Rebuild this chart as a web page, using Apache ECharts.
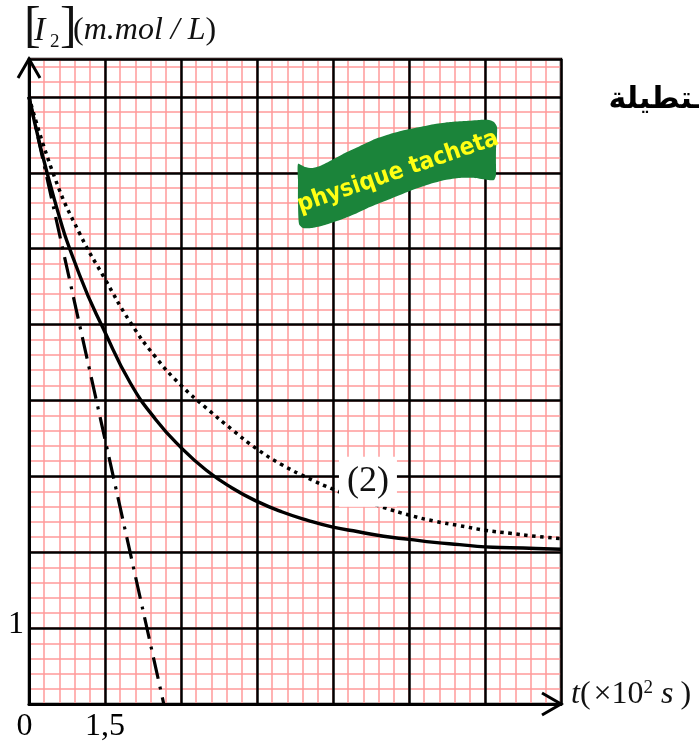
<!DOCTYPE html>
<html>
<head>
<meta charset="utf-8">
<script src="https://cdn.jsdelivr.net/npm/echarts@6/dist/echarts.min.js"></script>
<style>
  html, body { margin: 0; padding: 0; background: #fff; }
  #c { width: 699px; height: 742px; }
</style>
</head>
<body>
<div id="c"></div>
<script>
// Time in units of 10^2 s, concentration [I2] in mmol/L
const tSolid = [0, 0.5, 1.0, 1.5, 2.0, 2.5, 3.0, 3.5, 4.0, 4.5, 5.0, 5.5, 6.0, 6.5, 7.0, 7.5, 8.0, 8.5, 9.0, 9.5, 10.0, 10.5];
const cSolid = [8.0, 6.65, 5.65, 4.9, 4.23, 3.75, 3.38, 3.08, 2.85, 2.67, 2.53, 2.42, 2.33, 2.27, 2.21, 2.17, 2.13, 2.1, 2.07, 2.06, 2.05, 2.04];

const tDotted = [0, 0.5, 1.0, 1.5, 2.0, 2.5, 3.0, 3.5, 4.0, 4.5, 5.0, 5.5, 6.0, 6.5, 7.0, 7.5, 8.0, 8.5, 9.0, 9.5, 10.0, 10.5];
const cDotted = [8.0, 6.95, 6.2, 5.6, 5.03, 4.57, 4.2, 3.9, 3.62, 3.36, 3.15, 2.98, 2.83, 2.7, 2.59, 2.49, 2.41, 2.35, 2.29, 2.25, 2.21, 2.18];

// tangent at t = 0
const tTangent = [0, 2.66];
const cTangent = [8.0, 0];

// axes
const xMax = 10.5, xMajor = 1.5, xMinor = 0.3;
const yMax = 8.5, yMajor = 1, yMinor = 0.2;
const xTickText = { '0': '{o|0}', '1.5': '{t|1,5}' };
const yTickText = { '1': '{t|1}' };

// curve label
const curveLabel = '(2)';
const curveLabelAt = [6.69, 2.93];

const pairs = (xs, ys) => xs.map((x, i) => [x, ys[i]]);

const serif = 'Liberation Serif, Times New Roman, serif';
const minorRed = '#ff9a9a';

const chart = echarts.init(document.getElementById('c'), null, { renderer: 'canvas', width: 699, height: 742 });

const option = {
  animation: false,
  backgroundColor: '#fff',
  grid: { left: 29, right: 138, top: 59, bottom: 38, outerBoundsMode: 'none', containLabel: false,
          show: true, borderColor: '#000', borderWidth: 2.5, backgroundColor: 'transparent' },
  xAxis: [
    { type: 'value', min: 0, max: xMax, interval: xMinor, position: 'bottom', z: 0,
      axisLine: { show: false }, axisTick: { show: false }, axisLabel: { show: false },
      splitLine: { show: true, lineStyle: { color: minorRed, width: 1.5 } } },
    { type: 'value', min: 0, max: xMax, interval: xMajor, position: 'bottom', z: 1,
      axisLine: { show: true, onZero: false, lineStyle: { color: '#000', width: 3 } },
      axisTick: { show: false },
      axisLabel: {
        show: true, margin: 7, color: '#000', fontFamily: serif, fontSize: 32,
        formatter: v => xTickText[String(v)] || '',
        rich: { t: { fontFamily: serif, fontSize: 32, color: '#000' },
                o: { fontFamily: serif, fontSize: 32, color: '#000', padding: [0, 9, 0, 0] } }
      },
      splitLine: { show: true, lineStyle: { color: '#000', width: 2.5 } } }
  ],
  yAxis: [
    { type: 'value', min: 0, max: yMax, interval: yMinor, position: 'left', z: 0,
      axisLine: { show: false }, axisTick: { show: false }, axisLabel: { show: false },
      splitLine: { show: true, lineStyle: { color: minorRed, width: 1.5 } } },
    { type: 'value', min: 0, max: yMax, interval: yMajor, position: 'left', z: 1,
      axisLine: { show: true, onZero: false, lineStyle: { color: '#000', width: 3 } },
      axisTick: { show: false },
      axisLabel: {
        show: true, margin: 5, color: '#000', fontFamily: serif, fontSize: 32,
        formatter: v => yTickText[String(v)] || '',
        rich: { t: { fontFamily: serif, fontSize: 32, color: '#000', padding: [0, 0, 8, 0] } }
      },
      splitLine: { show: true, lineStyle: { color: '#000', width: 2.5 } } }
  ],
  series: [
    { name: 'solid', type: 'line', xAxisIndex: 1, yAxisIndex: 1, z: 5,
      data: pairs(tSolid, cSolid), smooth: 0.5, showSymbol: false, symbol: 'none',
      lineStyle: { color: '#000', width: 3.4 } },
    { name: 'dotted', type: 'line', xAxisIndex: 1, yAxisIndex: 1, z: 5,
      data: pairs(tDotted, cDotted), smooth: 0.5, showSymbol: false, symbol: 'none',
      lineStyle: { color: '#000', width: 3.5, type: [3.5, 4.5], cap: 'butt' } },
    { name: 'tangent', type: 'line', xAxisIndex: 1, yAxisIndex: 1, z: 5,
      data: pairs(tTangent, cTangent), showSymbol: false, symbol: 'none',
      lineStyle: { color: '#000', width: 3.2, type: [22, 8, 3, 8], cap: 'butt' } }
  ]
};
chart.setOption(option);

const px = (t, c) => chart.convertToPixel({ gridIndex: 0 }, [t, c]);
const o = px(0, 0), xEnd = px(xMax, 0), yEnd = px(0, yMax);
const lbl = px(curveLabelAt[0], curveLabelAt[1]);

// outline of the waving banner
const bannerOutline = [
  [298, 164], [305, 167], [312, 168], [320, 166], [332, 160], [345, 153], [360, 146], [375, 139],
  [390, 134], [405, 130], [420, 127], [435, 124], [450, 122], [465, 121], [480, 120], [489, 120],
  [494, 122], [497, 127], [497, 135], [496, 150], [496, 165], [496, 175], [494, 180], [488, 180],
  [475, 178], [460, 178], [445, 180], [430, 184], [415, 189], [400, 195], [385, 201], [370, 207],
  [355, 214], [340, 220], [325, 225], [312, 228], [303, 228], [299, 224], [298, 200], [298, 180]
];

chart.setOption({
  graphic: [
    // axis arrow heads
    { type: 'polyline', z: 100,
      shape: { points: [[o[0] - 11, yEnd[1] + 19], [o[0], yEnd[1]], [o[0] + 11, yEnd[1] + 19]] },
      style: { stroke: '#000', lineWidth: 3, fill: null } },
    { type: 'polyline', z: 100,
      shape: { points: [[xEnd[0] - 19, o[1] - 11], [xEnd[0], o[1]], [xEnd[0] - 19, o[1] + 11]] },
      style: { stroke: '#000', lineWidth: 3, fill: null } },
    // curve label
    { type: 'text', z: 100, x: lbl[0], y: lbl[1],
      style: { text: curveLabel, font: '36px ' + serif, fill: '#111', align: 'center', verticalAlign: 'middle',
               backgroundColor: '#fff', padding: [7, 8, 7, 8] } },
    // banner
    { type: 'polygon', z: 90, shape: { points: bannerOutline, smooth: 0.2 },
      style: { fill: '#1b843a', stroke: null } },
    { type: 'text', z: 91, x: 398, y: 172, rotation: 0.33,
      style: { text: 'physique tacheta', font: 'bold 24px "DejaVu Sans Condensed", "DejaVu Sans", sans-serif', fill: '#ffff14', align: 'center', verticalAlign: 'middle' } },
    // y axis title
    { type: 'text', z: 100, x: 24, y: 28, style: { text: '[', font: '50px ' + serif, fill: '#111', verticalAlign: 'middle' } },
    { type: 'text', z: 100, x: 34, y: 31, style: { text: 'I', font: 'italic 34px ' + serif, fill: '#111', verticalAlign: 'middle' } },
    { type: 'text', z: 100, x: 50, y: 42, style: { text: '2', font: '19px ' + serif, fill: '#111', verticalAlign: 'middle' } },
    { type: 'text', z: 100, x: 60, y: 28, style: { text: ']', font: '50px ' + serif, fill: '#111', verticalAlign: 'middle' } },
    { type: 'text', z: 100, x: 73, y: 31,
      style: { text: '{r|(}{i|m.mol / L}{r|)}', verticalAlign: 'middle', fill: '#111',
               rich: { r: { font: '32px ' + serif, fill: '#111' }, i: { font: 'italic 32px ' + serif, fill: '#111' } } } },
    // x axis title
    { type: 'text', z: 100, x: 571, y: 695,
      style: { text: '{i|t}{p|(}{r|×10}{s|2}{i|s}{q|)}', verticalAlign: 'middle', fill: '#111',
               rich: { r: { font: '32px ' + serif, fill: '#111' },
                       p: { font: '32px ' + serif, fill: '#111', padding: [0, 3, 0, 0] },
                       q: { font: '32px ' + serif, fill: '#111', padding: [0, 0, 0, 7] },
                       i: { font: 'italic 32px ' + serif, fill: '#111' },
                       s: { font: '19px ' + serif, fill: '#111', verticalAlign: 'top', padding: [0, 8, 0, 0] } } } },
    // side note
    { type: 'text', z: 100, x: 703, y: 100,
      style: { text: 'ـتطيلة', font: 'bold 30px DejaVu Sans, sans-serif', fill: '#000', align: 'right', verticalAlign: 'middle' } }
  ]
});
</script>
</body>
</html>
